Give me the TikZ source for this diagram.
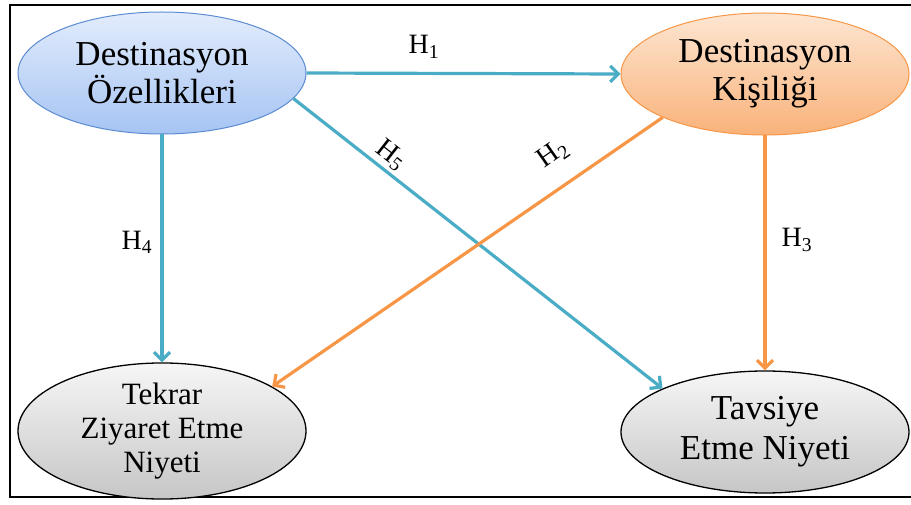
\documentclass[tikz,border=0pt]{standalone}
\usepackage{fontspec}
\setmainfont{Liberation Serif}
\usetikzlibrary{shapes.geometric,arrows.meta}

\definecolor{aqua}{HTML}{4BACC6}
\definecolor{peach}{HTML}{F79646}
\definecolor{blueedge}{HTML}{5B8BD0}

\tikzset{
  concept/.style={ellipse, inner sep=0pt, minimum width=288pt, minimum height=122pt,
    align=center, text=black},
  bluebox/.style={concept, draw=blueedge, line width=1pt,
    top color={rgb,255:red,226;green,236;blue,252}, bottom color={rgb,255:red,166;green,196;blue,243},
    font=\fontsize{35}{38}\selectfont},
  orangebox/.style={concept, draw=peach, line width=1pt,
    top color={rgb,255:red,253;green,230;blue,210}, bottom color={rgb,255:red,249;green,178;blue,122},
    font=\fontsize{35}{38}\selectfont},
  graybox/.style={concept, draw=black, line width=1.3pt,
    top color={rgb,255:red,246;green,246;blue,246}, bottom color={rgb,255:red,198;green,198;blue,198}},
  link/.style={line width=3.2pt, -{Straight Barb[length=8pt,width=16pt,line width=3.2pt]}},
  bluelink/.style={link, draw=aqua},
  orangelink/.style={link, draw=peach},
  hlabel/.style={font=\fontsize{28}{30}\selectfont, inner sep=0pt}
}

\begin{document}
\begin{tikzpicture}[x=1pt, y=-1pt]
  \useasboundingbox (0,0) rectangle (911,505);

  % outer frame (its right side lies beyond the page)
  \draw[line width=1.2pt] (915,5) -- (10,5) -- (10,497) -- (915,497);

  % concepts
  \node[bluebox]   (ozel) at (162,73)  {Destinasyon\\Özellikleri};
  \node[orangebox] (kis)  at (765,74)  {Destinasyon\\Kişiliği};
  \node[graybox, font=\fontsize{31}{34}\selectfont] (tek) at (162,431) {Tekrar\\Ziyaret Etme\\Niyeti};
  \node[graybox, font=\fontsize{35}{40}\selectfont] (tav) at (765,432) {Tavsiye\\Etme Niyeti};

  % hypotheses
  \draw[bluelink]   (ozel.east)  -- (kis.west);
  \draw[bluelink]   (ozel.south) -- (tek.north);
  \draw[bluelink]   (ozel.-11)   -- (tav.157);
  \draw[orangelink] (kis.203)    -- (tek.22);
  \draw[orangelink] (kis.south)  -- (tav.north);

  % hypothesis labels
  \node[hlabel] (h1) at (424,47)  {H\textsubscript{1}};
  \node[hlabel] (h4) at (137,242) {H\textsubscript{4}};
  \node[hlabel] (h3) at (797,240) {H\textsubscript{3}};
  \node[hlabel, rotate=-38] (h5) at (391,155) {H\textsubscript{5}};
  \node[hlabel, rotate=35]  (h2) at (553,154) {H\textsubscript{2}};
\end{tikzpicture}
\end{document}
